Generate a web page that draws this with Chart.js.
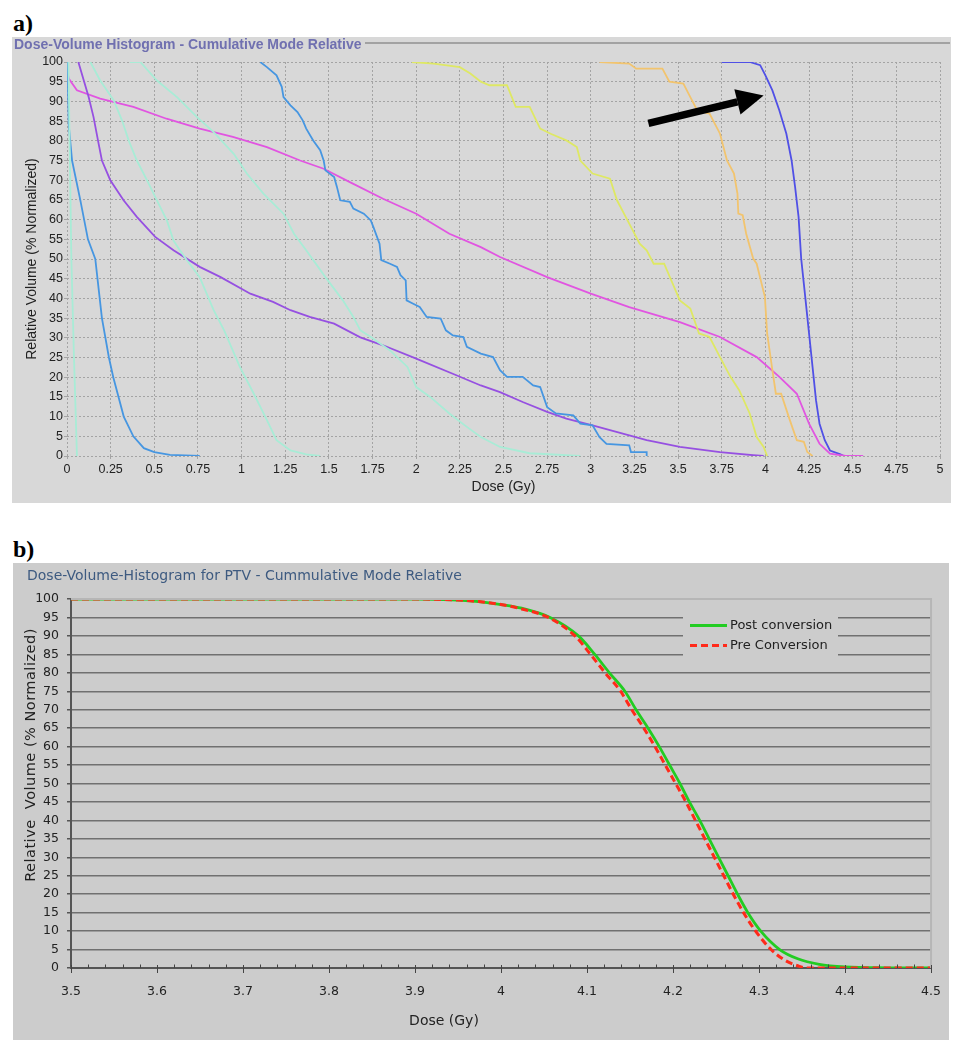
<!DOCTYPE html>
<html>
<head>
<meta charset="utf-8">
<script src="https://cdn.jsdelivr.net/npm/chart.js@4.4.0/dist/chart.umd.min.js"></script>
<style>
  body { margin: 0; background: #fff; width: 965px; height: 1050px; position: relative; overflow: hidden; }
  .lbl { position: absolute; font: bold 24px "Liberation Serif", "Times New Roman", serif; line-height: 24px; color: #000; }
  #boxA { position: absolute; left: 12px; top: 37px; width: 939px; height: 466px; background: #d8d8d8; }
  #boxB { position: absolute; left: 13px; top: 563px; width: 936px; height: 477px; background: #cccccc; }
  canvas { position: absolute; left: 0; top: 0; }
  #titleA { position: absolute; left: 14px; top: 37px; font: bold 14px "Liberation Sans", Arial, sans-serif; line-height: 15px; color: #7070b0; }
  #ruleA { position: absolute; left: 365px; top: 42px; width: 585px; height: 2px; background: #a2a2a2; }
  #titleB { position: absolute; left: 27px; top: 567px; font: 14px "DejaVu Sans", Verdana, sans-serif; line-height: 16px; color: #3d5a80; }
  .axB { position: absolute; font: 14px "DejaVu Sans", Verdana, sans-serif; line-height: 16px; color: #222; text-align: center; white-space: pre; }
</style>
</head>
<body>
<div class="lbl" style="left:13px;top:11px">a)</div>
<div id="boxA"><canvas id="chartA" width="939" height="466"></canvas></div>
<div id="ruleA"></div>
<div id="titleA">Dose-Volume Histogram - Cumulative Mode Relative</div>

<div class="lbl" style="left:13px;top:537px">b)</div>
<div id="boxB"><canvas id="chartB" width="936" height="477"></canvas></div>
<div id="titleB">Dose-Volume-Histogram for PTV - Cummulative Mode Relative</div>
<div class="axB" style="left:-120px;top:747px;width:300px;transform:rotate(-90deg);font-size:14.5px;letter-spacing:0.5px">Relative  Volume (% Normalized)</div>
<div class="axB" style="left:344px;top:1012px;width:200px">Dose (Gy)</div>

<script>
// ---- panel a: dose (Gy) / relative volume (%) per structure ----
const mint1Dose = [0.008, 0.015, 0.025, 0.04, 0.057];
const mint1Vol  = [100, 80, 50, 25, 0];

const blue1Dose = [0, 0.005, 0.01, 0.029, 0.076, 0.12, 0.162, 0.20, 0.24, 0.265, 0.325, 0.38, 0.44, 0.5, 0.59, 0.76];
const blue1Vol  = [100, 95, 84, 75, 65, 55, 50, 35, 25, 20, 10, 5, 2, 1, 0.3, 0];

const purpleDose = [0.065, 0.124, 0.152, 0.181, 0.2, 0.248, 0.324, 0.40, 0.505, 0.61, 0.76, 0.88, 1.05, 1.18, 1.28, 1.39,
  1.53, 1.68, 1.81, 2.0, 2.23, 2.37, 2.48, 2.61, 2.75, 2.86, 3.01, 3.32, 3.51, 3.74, 3.93, 3.99];
const purpleVol  = [100, 91.1, 86.0, 79.3, 75.0, 70.0, 64.9, 60.7, 55.6, 52.2, 48.0, 45.4, 41.2, 39.1, 37.0, 35.3,
  33.6, 30.1, 28.1, 24.7, 20.5, 17.9, 16.2, 13.7, 11.2, 9.5, 7.8, 4.0, 2.3, 1.0, 0.2, 0];

const mint2Dose = [0.134, 0.19, 0.267, 0.315, 0.353, 0.40, 0.458, 0.515, 0.572, 0.61, 0.65, 0.687, 0.76, 0.84, 0.90,
  0.99, 1.07, 1.145, 1.20, 1.28, 1.37, 1.45];
const mint2Vol  = [100, 95.3, 90.3, 85.2, 80.1, 75.0, 70.0, 64.9, 59.8, 54.7, 52, 49.7, 45.4, 37.0, 31.9,
  22.6, 15.8, 9.1, 4.0, 1.4, 0.4, 0];

const mint3Dose = [0.36, 0.42, 0.515, 0.63, 0.745, 0.84, 0.955, 1.03, 1.125, 1.24, 1.30, 1.37, 1.48, 1.58, 1.64, 1.68,
  1.74, 1.85, 1.95, 2.0, 2.08, 2.19, 2.29, 2.37, 2.48, 2.65, 2.94];
const mint3Vol  = [100, 100, 95.3, 91.1, 86.0, 82.2, 76.7, 71.7, 66.6, 61.5, 56.4, 52.2, 45.4, 39.5, 35.3, 31.9,
  30.2, 26.8, 22.6, 17.5, 15.0, 10.8, 7.4, 4.8, 2.3, 0.7, 0];

const blue2Dose = [1.107, 1.145, 1.20, 1.23, 1.24, 1.28, 1.32, 1.35, 1.37, 1.41, 1.45, 1.47, 1.48, 1.53, 1.546, 1.565,
  1.62, 1.64, 1.70, 1.74, 1.755, 1.79, 1.80, 1.85, 1.89, 1.91, 1.94, 1.945, 1.98, 2.02, 2.06, 2.14, 2.17, 2.21, 2.27,
  2.29, 2.37, 2.44, 2.48, 2.52, 2.61, 2.67, 2.71, 2.75, 2.80, 2.90, 2.94, 3.01, 3.05, 3.09, 3.22, 3.23, 3.32, 3.32];
const blue2Vol  = [100, 98.7, 96.6, 93.7, 91.1, 89.0, 87.3, 85.2, 83.1, 80.1, 77.6, 75.0, 72.5, 70.8, 68.3, 64.9,
  64.5, 62.8, 61.5, 59.8, 58.1, 53.9, 49.7, 48.8, 48.0, 45.9, 44.6, 39.5, 38.7, 37.8, 35.3, 34.9, 31.9, 30.6, 30.2,
  27.7, 26.0, 25.1, 21.8, 20.1, 20.1, 17.9, 17.5, 12.4, 10.8, 10.3, 8.2, 7.8, 4.8, 3.1, 2.7, 1.0, 1.0, 0];

const magentaDose = [0, 0.01, 0.057, 0.19, 0.38, 0.57, 0.76, 0.95, 1.145, 1.335, 1.47, 1.62, 1.81, 2.0, 2.19, 2.37,
  2.48, 2.75, 3.0, 3.22, 3.51, 3.74, 3.95, 4.08, 4.18, 4.25, 4.31, 4.37, 4.46, 4.56];
const magentaVol  = [97.9, 95.8, 92.8, 90.7, 88.6, 85.6, 83.1, 81.0, 78.4, 75.0, 72.9, 69.5, 65.3, 61.5, 56.4, 53.0,
  50.5, 45.4, 41.2, 37.8, 34.0, 30.2, 25.1, 20.1, 15.8, 8.2, 3.1, 0.6, 0, 0];

const yellowDose = [1.975, 2.1, 2.25, 2.31, 2.37, 2.42, 2.52, 2.57, 2.65, 2.71, 2.77, 2.86, 2.92, 2.94, 3.01, 3.11,
  3.15, 3.20, 3.28, 3.32, 3.36, 3.42, 3.51, 3.57, 3.62, 3.68, 3.74, 3.80, 3.85, 3.91, 3.95, 3.99, 4.01];
const yellowVol  = [100, 99.6, 98.7, 97.1, 95.0, 94.1, 94.1, 88.6, 88.6, 83.1, 81.8, 80.1, 78.4, 75.0, 71.7, 70.4,
  64.9, 60.7, 53.9, 52.2, 48.8, 48.8, 39.5, 37.4, 31.1, 30.2, 25.1, 20.1, 16.7, 10.8, 4.8, 2.3, 0];

const orangeDose = [3.05, 3.22, 3.26, 3.41, 3.45, 3.53, 3.57, 3.61, 3.68, 3.74, 3.78, 3.82, 3.84, 3.845, 3.87, 3.89,
  3.93, 3.95, 3.997, 4.01, 4.04, 4.06, 4.09, 4.14, 4.18, 4.22, 4.24, 4.27];
const orangeVol  = [100, 99.6, 98.3, 98.3, 95.0, 94.5, 91.1, 87.7, 86.9, 81.8, 75.0, 71.7, 66.6, 61.5, 61.1, 56.4,
  50.1, 48.8, 40.4, 31.1, 21.8, 15.8, 15.8, 9.1, 4.0, 3.6, 1.0, 0];

const ptvDose = [3.75, 3.91, 3.97, 4.0, 4.04, 4.08, 4.12, 4.15, 4.17, 4.19, 4.205, 4.22, 4.25, 4.27, 4.29, 4.31, 4.34,
  4.37, 4.43, 4.45];
const ptvVol  = [100, 100, 99.2, 96.6, 92.8, 87.7, 81.8, 75.0, 68.3, 60.7, 50.1, 43.8, 31.1, 22.6, 14.1, 8.2, 4.0,
  1.4, 0.4, 0];

// arrow pointing at the PTV curve (dose, volume)
const arrowFrom = [3.33, 84.4];
const arrowTo   = [3.99, 91.5];

// ---- panel b: PTV before / after conversion ----
const postDose = [3.5, 3.9, 3.95, 3.974, 4.0, 4.024, 4.057, 4.09, 4.109, 4.126, 4.144, 4.157, 4.171, 4.184, 4.196,
  4.208, 4.219, 4.231, 4.242, 4.253, 4.264, 4.275, 4.287, 4.302, 4.324, 4.345, 4.37, 4.40, 4.45, 4.5];
const postVol  = [100, 100, 99.7, 99.3, 98.5, 97.5, 95, 90, 85, 80, 75, 70, 65, 60, 55,
  50, 45, 40, 35, 30, 25, 20, 15, 10, 5, 2.5, 1, 0.3, 0.05, 0];
const preDose = [3.5, 3.9, 3.95, 3.974, 4.0, 4.024, 4.055, 4.086, 4.104, 4.121, 4.139, 4.152, 4.166, 4.179, 4.191,
  4.203, 4.215, 4.226, 4.237, 4.248, 4.259, 4.27, 4.282, 4.296, 4.314, 4.33, 4.345, 4.356, 4.5];
const preVol  = [100, 100, 99.7, 99.3, 98.5, 97.3, 95, 90, 85, 80, 75, 70, 65, 60, 55,
  50, 45, 40, 35, 30, 25, 20, 15, 10, 5, 2.1, 0.6, 0, 0];

const seriesLabels = ['Post conversion', 'Pre Conversion'];

const pts = (xs, ys) => xs.map((x, i) => ({ x: x, y: ys[i] }));

const lineA = (data, color) => ({
  data: data, borderColor: color, borderWidth: 1.8, pointRadius: 0, tension: 0, fill: false
});

// ---------------- chart a ----------------
const arrowPlugin = {
  id: 'arrow',
  afterDatasetsDraw(chart) {
    const { ctx, scales: { x, y } } = chart;
    const x1 = x.getPixelForValue(arrowFrom[0]), y1 = y.getPixelForValue(arrowFrom[1]);
    const x2 = x.getPixelForValue(arrowTo[0]), y2 = y.getPixelForValue(arrowTo[1]);
    const ang = Math.atan2(y2 - y1, x2 - x1);
    const headLen = 27, headW = 13;
    const bx = x2 - headLen * Math.cos(ang), by = y2 - headLen * Math.sin(ang);
    ctx.save();
    ctx.strokeStyle = '#000';
    ctx.lineWidth = 7.5;
    ctx.beginPath();
    ctx.moveTo(x1, y1);
    ctx.lineTo(bx, by);
    ctx.stroke();
    ctx.fillStyle = '#000';
    ctx.beginPath();
    ctx.moveTo(x2, y2);
    ctx.lineTo(bx + headW * Math.sin(ang), by - headW * Math.cos(ang));
    ctx.lineTo(bx - headW * Math.sin(ang), by + headW * Math.cos(ang));
    ctx.closePath();
    ctx.fill();
    ctx.restore();
  }
};

const fontA = { family: '"Liberation Sans", Arial, sans-serif', size: 12.5 };
const titleFontA = { family: '"Liberation Sans", Arial, sans-serif', size: 14 };

new Chart(document.getElementById('chartA'), {
  type: 'line',
  data: {
    datasets: [
      lineA(pts(mint1Dose, mint1Vol), 'rgb(168,236,214)'),
      lineA(pts(mint2Dose, mint2Vol), 'rgb(168,236,214)'),
      lineA(pts(mint3Dose, mint3Vol), 'rgb(168,236,214)'),
      lineA(pts(blue1Dose, blue1Vol), 'rgb(70,150,225)'),
      lineA(pts(blue2Dose, blue2Vol), 'rgb(70,150,225)'),
      lineA(pts(purpleDose, purpleVol), 'rgb(150,80,225)'),
      lineA(pts(yellowDose, yellowVol), 'rgb(222,232,100)'),
      lineA(pts(orangeDose, orangeVol), 'rgb(242,196,110)'),
      lineA(pts(magentaDose, magentaVol), 'rgb(225,85,225)'),
      lineA(pts(ptvDose, ptvVol), 'rgb(80,80,230)')
    ]
  },
  options: {
    responsive: false,
    animation: false,
    devicePixelRatio: 1,
    layout: { padding: { left: 0, right: 11, top: 25, bottom: 0 } },
    plugins: { legend: { display: false }, tooltip: { enabled: false } },
    scales: {
      x: {
        type: 'linear', min: 0, max: 5,
        afterFit: s => { s.height = 47; },
        ticks: {
          stepSize: 0.25, autoSkip: false, maxRotation: 0, padding: 3,
          color: '#222', font: fontA,
          callback: v => String(+v.toFixed(2))
        },
        grid: { color: '#a4a4a4', lineWidth: 1, tickLength: 3, tickColor: '#a4a4a4', borderDash: [2, 2] },
        border: { display: false, dash: [2, 2] },
        title: { display: true, text: 'Dose (Gy)', color: '#222', font: titleFontA, padding: { top: 0, bottom: 7 } }
      },
      y: {
        min: 0, max: 100,
        afterFit: s => { s.width = 55; },
        ticks: { stepSize: 5, padding: 1, color: '#222', font: fontA },
        grid: { color: '#a4a4a4', lineWidth: 1, tickLength: 3, tickColor: '#a4a4a4', borderDash: [2, 2] },
        border: { display: false, dash: [2, 2] },
        title: { display: true, text: 'Relative Volume (% Normalized)', color: '#222', font: titleFontA, padding: { top: 12, bottom: 0 } }
      }
    }
  },
  plugins: [arrowPlugin]
});

// ---------------- chart b ----------------
const isMajor = v => Math.abs(v * 10 - Math.round(v * 10)) < 1e-6;

const frameB = {
  id: 'frameB',
  afterDatasetsDraw(chart) {
    const { ctx, chartArea: a, scales: { x } } = chart;
    ctx.save();
    // light top / right frame
    ctx.strokeStyle = '#b6b6b6';
    ctx.lineWidth = 2;
    ctx.beginPath();
    ctx.moveTo(a.left, a.top);
    ctx.lineTo(a.right, a.top);
    ctx.lineTo(a.right, a.bottom);
    ctx.stroke();
    // x tick marks sitting on the axis
    ctx.strokeStyle = '#444';
    ctx.lineWidth = 1;
    x.ticks.forEach(t => {
      const px = Math.round(x.getPixelForValue(t.value)) + 0.5;
      ctx.beginPath();
      if (isMajor(t.value)) { ctx.moveTo(px, a.bottom - 3); ctx.lineTo(px, a.bottom + 5); }
      else { ctx.moveTo(px, a.bottom - 3.5); ctx.lineTo(px, a.bottom); }
      ctx.stroke();
    });
    // legend box
    const lx = a.left + 612, ly = a.top + 15, lw = 155, lh = 43;
    ctx.fillStyle = '#cccccc';
    ctx.fillRect(lx, ly, lw, lh);
    const items = chart.data.datasets.slice().sort((p, q) => p.legendIndex - q.legendIndex);
    items.forEach((ds, i) => {
      const yy = ly + 11.5 + i * 20;
      ctx.strokeStyle = ds.borderColor;
      ctx.lineWidth = 3;
      ctx.setLineDash(ds.borderDash || []);
      ctx.beginPath();
      ctx.moveTo(lx + 7, yy);
      ctx.lineTo(lx + 44, yy);
      ctx.stroke();
      ctx.setLineDash([]);
      ctx.fillStyle = '#222';
      ctx.font = '13px "DejaVu Sans", Verdana, sans-serif';
      ctx.textBaseline = 'middle';
      ctx.fillText(ds.label, lx + 47, yy + 0.5);
    });
    ctx.restore();
  }
};

const fontB = { family: '"DejaVu Sans", Verdana, sans-serif', size: 12.5 };

new Chart(document.getElementById('chartB'), {
  type: 'line',
  data: {
    datasets: [
      {
        label: seriesLabels[1], legendIndex: 1, order: 0,
        data: pts(preDose, preVol), borderColor: '#ff2a1a', borderWidth: 3, borderDash: [7, 4],
        pointRadius: 0, cubicInterpolationMode: 'monotone', fill: false
      },
      {
        label: seriesLabels[0], legendIndex: 0, order: 1,
        data: pts(postDose, postVol), borderColor: '#22cc22', borderWidth: 2.8,
        pointRadius: 0, cubicInterpolationMode: 'monotone', fill: false
      }
    ]
  },
  options: {
    responsive: false,
    animation: false,
    devicePixelRatio: 1,
    layout: { padding: { left: 0, right: 12, top: 36, bottom: 0 } },
    plugins: { legend: { display: false }, tooltip: { enabled: false } },
    scales: {
      x: {
        type: 'linear', min: 3.5, max: 4.5,
        afterFit: s => { s.height = 72; },
        ticks: {
          stepSize: 0.02, autoSkip: false, maxRotation: 0, padding: 8,
          color: '#222', font: fontB,
          callback: v => isMajor(v) ? String(Math.round(v * 10) / 10) : ''
        },
        grid: { display: false },
        border: { display: true, color: '#555', width: 2 }
      },
      y: {
        min: 0, max: 100,
        afterFit: s => { s.width = 58; },
        ticks: { stepSize: 5, padding: 8, color: '#222', font: fontB },
        grid: {
          color: c => (c.tick && c.tick.value === 100) ? '#b6b6b6' : '#707070',
          lineWidth: 1.5, tickLength: 4, tickColor: '#555'
        },
        border: { display: true, color: '#555', width: 2 }
      }
    }
  },
  plugins: [frameB]
});
</script>
</body>
</html>
